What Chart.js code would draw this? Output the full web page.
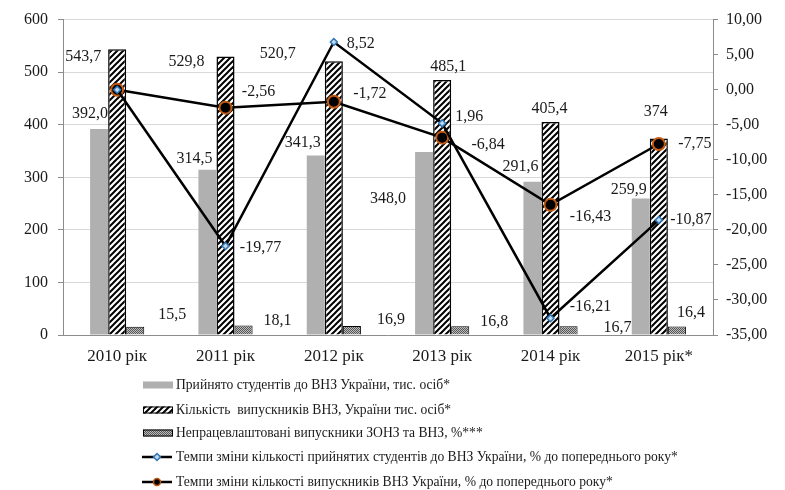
<!DOCTYPE html>
<html lang="uk">
<head>
<meta charset="utf-8">
<title>Студенти та випускники ВНЗ України</title>
<script src="https://cdn.jsdelivr.net/npm/chart.js@4/dist/chart.umd.min.js"></script>
<style>
    html, body { margin: 0; padding: 0; background: #ffffff; }
    canvas { display: block; }
</style>
</head>
<body>
<canvas id="eduChart" width="785" height="490"></canvas>
<script>
// Chart data
const years = ['2010 рік', '2011 рік', '2012 рік', '2013 рік', '2014 рік', '2015 рік*'];
const admitted = [392.0, 314.5, 341.3, 348.0, 291.6, 259.9];
const graduates = [543.7, 529.8, 520.7, 485.1, 405.4, 374];
const graduatesText = ['543,7', '529,8', '520,7', '485,1', '405,4', '374'];
const unemployed = [15.5, 18.1, 16.9, 16.8, 16.7, 16.4];
// admitted growth: where the marks sit on the right axis, and what their labels say
const admittedRate = [0, -22.3, 6.8, -4.8, -32.6, -18.6];
const admittedRateText = ['', '-19,77', '8,52', '1,96', '-16,21', '-10,87'];
const graduatesRate = [0, -2.56, -1.72, -6.84, -16.43, -7.75];
const graduatesRateText = ['', '-2,56', '-1,72', '-6,84', '-16,43', '-7,75'];

const seriesNames = [
    'Прийнято студентів до ВНЗ України, тис. осіб*',
    'Кількість  випускників ВНЗ, України тис. осіб*',
    'Непрацевлаштовані випускники ЗОНЗ та ВНЗ, %***',
    'Темпи зміни кількості прийнятих студентів до ВНЗ України, % до попереднього року*',
    'Темпи зміни кількості випускників ВНЗ України, % до попереднього року*'
];

const FONT = '"Liberation Serif", "Times New Roman", serif';
const AXIS_GREY = '#8c8c8c';

window.addEventListener('DOMContentLoaded', () => {
    renderChart();
});

function hatchPattern() {
    const tile = document.createElement('canvas');
    tile.width = 6;
    tile.height = 6;
    const c = tile.getContext('2d');
    c.fillStyle = '#ffffff';
    c.fillRect(0, 0, 6, 6);
    c.strokeStyle = '#000000';
    c.lineWidth = 2;
    c.beginPath();
    c.moveTo(-1, 7); c.lineTo(7, -1);
    c.moveTo(-4, 4); c.lineTo(4, -4);
    c.moveTo(2, 10); c.lineTo(10, 2);
    c.stroke();
    return c.createPattern(tile, 'repeat');
}

function dotPattern() {
    const tile = document.createElement('canvas');
    tile.width = 2;
    tile.height = 2;
    const c = tile.getContext('2d');
    c.fillStyle = '#bdbdbd';
    c.fillRect(0, 0, 2, 2);
    c.fillStyle = '#555555';
    c.fillRect(0, 0, 1, 1);
    c.fillRect(1, 1, 1, 1);
    return c.createPattern(tile, 'repeat');
}

// value labels, placed by hand like in the original
const valueLabels = {
    id: 'valueLabels',
    afterDatasetsDraw(chart) {
        const ctx = chart.ctx;
        ctx.save();
        ctx.font = '16px ' + FONT;
        ctx.fillStyle = '#1a1a1a';
        ctx.textAlign = 'center';
        ctx.textBaseline = 'middle';
        chart.data.datasets.forEach((ds, di) => {
            const meta = chart.getDatasetMeta(di);
            meta.data.forEach((el, i) => {
                const text = ds.labelText[i];
                if (!text) return;
                const off = ds.labelOffsets[i];
                ctx.fillText(text, el.x + off[0], el.y + off[1]);
            });
        });
        ctx.restore();
    }
};

// legend stacked under the chart, one entry per line
const stackedLegend = {
    id: 'stackedLegend',
    afterDraw(chart) {
        const ctx = chart.ctx;
        const rows = [385, 410, 433, 457, 482];
        const x0 = 142, x1 = 172;
        ctx.save();
        chart.data.datasets.forEach((ds, di) => {
            const y = rows[di];
            if (ds.type === 'line') {
                ctx.strokeStyle = '#000000';
                ctx.lineWidth = 2.5;
                ctx.beginPath();
                ctx.moveTo(x0, y);
                ctx.lineTo(x1, y);
                ctx.stroke();
                const mx = (x0 + x1) / 2;
                ctx.fillStyle = ds.pointBackgroundColor;
                ctx.strokeStyle = ds.pointBorderColor;
                ctx.lineWidth = 1.5;
                ctx.beginPath();
                if (ds.pointStyle === 'rectRot') {
                    ctx.moveTo(mx, y - 3.5); ctx.lineTo(mx + 3.5, y);
                    ctx.lineTo(mx, y + 3.5); ctx.lineTo(mx - 3.5, y);
                    ctx.closePath();
                } else {
                    ctx.arc(mx, y, 3.5, 0, Math.PI * 2);
                }
                ctx.fill();
                ctx.stroke();
            } else {
                ctx.fillStyle = ds.backgroundColor;
                ctx.fillRect(x0 + 1, y - 3.5, x1 - x0, 7);
                if (ds.borderWidth) {
                    ctx.strokeStyle = '#000000';
                    ctx.lineWidth = 1;
                    ctx.strokeRect(x0 + 1.5, y - 3, x1 - x0 - 1, 6);
                }
            }
            ctx.fillStyle = '#1a1a1a';
            ctx.font = '13.6px ' + FONT;
            ctx.textAlign = 'left';
            ctx.textBaseline = 'middle';
            ctx.fillText(seriesNames[di], 176, y);
        });
        ctx.restore();
    }
};

function renderChart() {
    const ctx = document.getElementById('eduChart');
    if (!ctx) return;

    new Chart(ctx.getContext('2d'), {
        type: 'bar',
        data: {
            labels: years,
            datasets: [
                {
                    label: seriesNames[0],
                    data: admitted,
                    backgroundColor: '#b0b0b0',
                    borderWidth: 0,
                    yAxisID: 'y',
                    order: 3,
                    labelText: admitted.map(v => v.toFixed(1).replace('.', ',')),
                    labelOffsets: [[-9, -15], [-13, -11], [-13, -13], [-36, 47], [-12, -15], [-12, -9]]
                },
                {
                    label: seriesNames[1],
                    data: graduates,
                    backgroundColor: hatchPattern(),
                    borderColor: '#000000',
                    borderWidth: 1.5,
                    yAxisID: 'y',
                    order: 3,
                    labelText: graduatesText,
                    labelOffsets: [[-34, 8], [-39, 5], [-56, -7], [6, -13], [-1, -13], [-3, -27]]
                },
                {
                    label: seriesNames[2],
                    data: unemployed,
                    backgroundColor: dotPattern(),
                    borderColor: '#000000',
                    borderWidth: 1,
                    yAxisID: 'y',
                    order: 3,
                    labelText: unemployed.map(v => v.toFixed(1).replace('.', ',')),
                    labelOffsets: [[37, -12], [34, -5], [39, -6], [34, -4], [49, 2], [14, -14]]
                },
                {
                    type: 'line',
                    label: seriesNames[3],
                    data: admittedRate,
                    yAxisID: 'y2',
                    order: 1,
                    borderColor: '#000000',
                    borderWidth: 2.5,
                    tension: 0,
                    pointStyle: 'rectRot',
                    pointRadius: 3.5,
                    pointBackgroundColor: '#bdd7ee',
                    pointBorderColor: '#2e75b6',
                    pointBorderWidth: 1.5,
                    labelText: admittedRateText,
                    labelOffsets: [[0, 0], [35, 2], [27, 2], [27, -7], [40, -11], [32, 0]]
                },
                {
                    type: 'line',
                    label: seriesNames[4],
                    data: graduatesRate,
                    yAxisID: 'y2',
                    order: 2,
                    borderColor: '#000000',
                    borderWidth: 2.5,
                    tension: 0,
                    pointStyle: 'circle',
                    pointRadius: 6,
                    pointBackgroundColor: '#000000',
                    pointBorderColor: '#c55a11',
                    pointBorderWidth: 2,
                    labelText: graduatesRateText,
                    labelOffsets: [[0, 0], [33, -16], [36, -8], [46, 7], [40, 12], [36, 0]]
                }
            ]
        },
        options: {
            responsive: false,
            animation: false,
            layout: { padding: { top: 15, left: 0, right: 0, bottom: 0 } },
            datasets: {
                bar: { categoryPercentage: 0.5, barPercentage: 1.0 }
            },
            plugins: {
                legend: { display: false },
                tooltip: { enabled: false }
            },
            scales: {
                x: {
                    grid: { display: false, drawTicks: false },
                    border: { display: true, color: AXIS_GREY, width: 1 },
                    ticks: { color: '#1a1a1a', padding: 11, font: { family: FONT, size: 17 } },
                    afterFit: scale => { scale.height = 155; }
                },
                y: {
                    position: 'left',
                    min: 0,
                    max: 600,
                    ticks: { stepSize: 100, color: '#1a1a1a', padding: 10, font: { family: FONT, size: 16 } },
                    grid: { color: '#d9d9d9', tickColor: AXIS_GREY, tickLength: 5 },
                    border: { color: AXIS_GREY, width: 1 },
                    afterFit: scale => { scale.width = 63; }
                },
                y2: {
                    position: 'right',
                    min: -35,
                    max: 10,
                    ticks: {
                        stepSize: 5,
                        color: '#1a1a1a',
                        padding: 8,
                        font: { family: FONT, size: 16 },
                        callback: v => Number(v).toFixed(2).replace('.', ',')
                    },
                    grid: { drawOnChartArea: false, tickColor: AXIS_GREY, tickLength: 5 },
                    border: { color: AXIS_GREY, width: 1 },
                    afterFit: scale => { scale.width = 72; }
                }
            }
        },
        plugins: [valueLabels, stackedLegend]
    });
}
</script>
</body>
</html>
